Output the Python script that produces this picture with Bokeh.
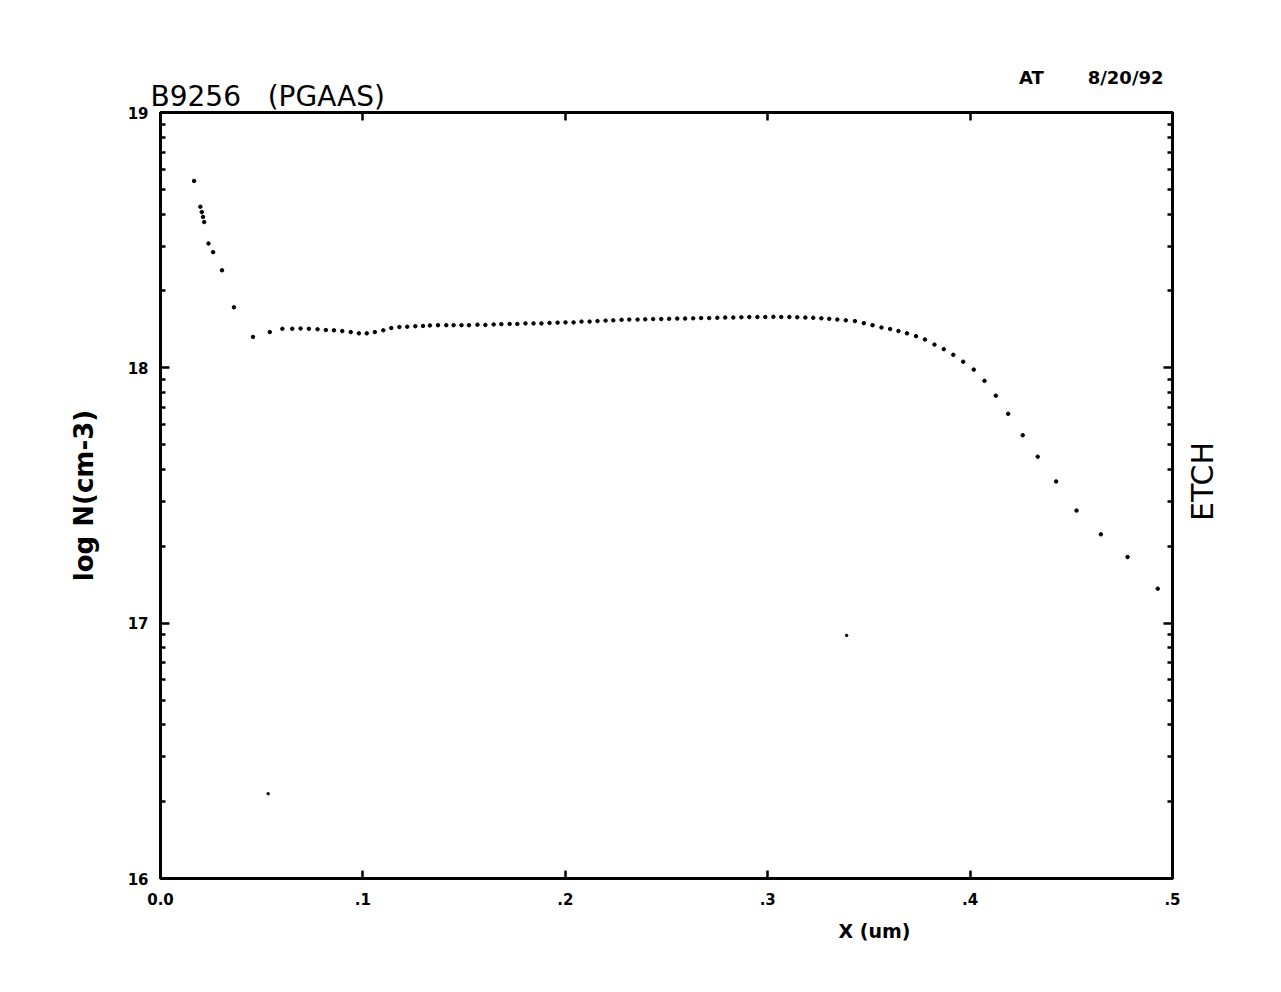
import math
from bokeh.plotting import figure
from bokeh.models import (FixedTicker, CustomJSTickFormatter, LinearAxis, Title, Range1d)
from bokeh.embed import file_html
from bokeh.resources import INLINE

# ---- data: depth X (um) and log N (cm-3) ----
x_um = [0.0166, 0.0197, 0.0204, 0.0210, 0.0216, 0.0237, 0.0260, 0.0304, 0.0363,
        0.0457, 0.0540, 0.0602, 0.0651, 0.0692, 0.0733, 0.0776, 0.0817, 0.0857,
        0.0898, 0.0940, 0.0980, 0.1019, 0.1059, 0.1101, 0.1140, 0.1180, 0.1219,
        0.1259, 0.1297, 0.1331, 0.1371, 0.1412, 0.1448, 0.1487, 0.1524, 0.1566,
        0.1605, 0.1646, 0.1684, 0.1725, 0.1763, 0.1803, 0.1843, 0.1882, 0.1922,
        0.1962, 0.2001, 0.2041, 0.2080, 0.2120, 0.2159, 0.2199, 0.2237, 0.2278,
        0.2316, 0.2357, 0.2395, 0.2434, 0.2474, 0.2513, 0.2553, 0.2592, 0.2632,
        0.2671, 0.2711, 0.2751, 0.2790, 0.2830, 0.2870, 0.2909, 0.2949, 0.2988,
        0.3028, 0.3067, 0.3107, 0.3146, 0.3186, 0.3225, 0.3265, 0.3304, 0.3344,
        0.3386, 0.3431, 0.3475, 0.3518, 0.3562, 0.3605, 0.3646, 0.3688, 0.3733,
        0.3777, 0.3824, 0.3870, 0.3917, 0.3966, 0.4018, 0.4071, 0.4127, 0.4188,
        0.4260, 0.4334, 0.4425, 0.4526, 0.4646, 0.4778, 0.4927]
log_n = [18.732, 18.631, 18.610, 18.591, 18.571, 18.487, 18.453, 18.382, 18.237,
         18.121, 18.140, 18.153, 18.153, 18.154, 18.153, 18.151, 18.148, 18.147,
         18.144, 18.140, 18.135, 18.135, 18.140, 18.147, 18.156, 18.160, 18.161,
         18.163, 18.164, 18.166, 18.167, 18.167, 18.167, 18.167, 18.167, 18.169,
         18.168, 18.170, 18.171, 18.172, 18.172, 18.174, 18.174, 18.174, 18.176,
         18.177, 18.178, 18.178, 18.181, 18.181, 18.183, 18.185, 18.186, 18.188,
         18.189, 18.189, 18.190, 18.191, 18.191, 18.192, 18.193, 18.193, 18.194,
         18.195, 18.195, 18.196, 18.197, 18.197, 18.198, 18.199, 18.199, 18.199,
         18.200, 18.199, 18.199, 18.198, 18.197, 18.196, 18.194, 18.192, 18.189,
         18.186, 18.183, 18.175, 18.167, 18.158, 18.152, 18.144, 18.135, 18.124,
         18.111, 18.091, 18.073, 18.051, 18.024, 17.993, 17.949, 17.891, 17.820,
         17.736, 17.652, 17.555, 17.441, 17.348, 17.259, 17.135]
stray_x = [0.0532, 0.3390]
stray_log = [16.332, 16.952]

x_ticks = [0.0, 0.1, 0.2, 0.3, 0.4, 0.5]
x_tick_labels = ["0.0", ".1", ".2", ".3", ".4", ".5"]
y_ticks = [16, 17, 18, 19]
y_tick_labels = ["16", "17", "18", "19"]
y_minor = [d + math.log10(k) for d in y_ticks[:-1] for k in range(2, 10)]

NB = "\u00a0"
title_text = "B9256" + NB * 3 + "(PGAAS)"
date_text = "AT" + NB * 7 + "8/20/92"
y_title = "log N(cm-3)"
x_title = "X (um)"
side_text = "ETCH"
side_text_at = [17.40]   # log N level where the side label starts

FONT = "DejaVu Sans"

p = figure(width=1281, height=992, x_range=Range1d(0, 0.5), y_range=Range1d(16, 19),
           output_backend="svg", toolbar_location=None,
           min_border_left=160, min_border_right=109,
           min_border_top=112, min_border_bottom=114,
           x_axis_location=None, y_axis_location=None)
p.background_fill_color = "white"
p.border_fill_color = "white"
p.outline_line_color = "black"
p.outline_line_width = 3
p.xgrid.visible = False
p.ygrid.visible = False

LOOKUP = """
let best = 0;
for (let i = 0; i < tv.length; i++) {
  if (Math.abs(tv[i] - tick) < Math.abs(tv[best] - tick)) best = i;
}
return lb[best];
"""
xfmt = CustomJSTickFormatter(args=dict(tv=x_ticks, lb=x_tick_labels), code=LOOKUP)
yfmt = CustomJSTickFormatter(args=dict(tv=y_ticks, lb=y_tick_labels), code=LOOKUP)


def blank():
    return CustomJSTickFormatter(code="return '';")


def style_axis(ax, major_in, minor_in):
    ax.axis_line_color = "black"
    ax.axis_line_width = 3
    ax.major_tick_in = major_in
    ax.major_tick_out = 0
    ax.minor_tick_in = minor_in
    ax.minor_tick_out = 0
    ax.major_tick_line_width = 2.5
    ax.minor_tick_line_width = 2.5
    ax.major_tick_line_color = "black"
    ax.minor_tick_line_color = "black"
    ax.major_label_text_font = FONT
    ax.major_label_text_font_style = "bold"
    ax.major_label_text_font_size = "15px"
    ax.major_label_text_color = "black"
    ax.axis_label_text_font = FONT
    ax.axis_label_text_color = "black"


xb = LinearAxis(ticker=FixedTicker(ticks=x_ticks, minor_ticks=[]), formatter=xfmt)
style_axis(xb, 8, 0)
xb.major_label_standoff = 14
p.add_layout(xb, "below")

xt = LinearAxis(ticker=FixedTicker(ticks=x_ticks, minor_ticks=[]), formatter=blank())
style_axis(xt, 8, 0)
xt.major_label_standoff = 0
p.add_layout(xt, "above")

yl = LinearAxis(ticker=FixedTicker(ticks=y_ticks, minor_ticks=y_minor), formatter=yfmt)
style_axis(yl, 9, 5)
yl.major_label_standoff = 12
yl.axis_label = y_title
yl.axis_label_text_font_size = "26px"
yl.axis_label_text_font_style = "bold"
yl.axis_label_standoff = 26
p.add_layout(yl, "left")

yr = LinearAxis(ticker=FixedTicker(ticks=y_ticks, minor_ticks=y_minor), formatter=blank())
style_axis(yr, 9, 5)
yr.major_label_standoff = 0
p.add_layout(yr, "right")

# side label "ETCH" (reads bottom to top), placed as a label on an outer right axis
ye = LinearAxis(ticker=FixedTicker(ticks=side_text_at, minor_ticks=[]),
                formatter=CustomJSTickFormatter(args=dict(t=side_text), code="return t;"))
ye.axis_line_alpha = 0
ye.major_tick_in = 0
ye.major_tick_out = 0
ye.minor_tick_in = 0
ye.minor_tick_out = 0
ye.major_label_orientation = math.pi / 2
ye.major_label_standoff = 30
ye.major_label_text_font = FONT
ye.major_label_text_font_size = "30px"
ye.major_label_text_font_style = "normal"
ye.major_label_text_color = "black"
p.add_layout(ye, "right")

p.scatter(x_um, log_n, size=3.5, color="black")
p.scatter(stray_x, stray_log, size=2.5, color="black")

# outermost header line: operator and date
p.title.text = date_text
p.title.align = "right"
p.title.offset = 9
try:
    p.title.standoff = -20
except Exception:
    p.title.standoff = 0
p.title.text_font = FONT
p.title.text_font_size = "18px"
p.title.text_font_style = "bold"
p.title.text_color = "black"

# sample title, just above the frame
p.add_layout(Title(text=title_text, align="left", offset=-10, standoff=0,
                   text_font=FONT, text_font_size="28px", text_font_style="normal",
                   text_color="black"), "above")

p.add_layout(Title(text=x_title, align="left", offset=678, standoff=20,
                   text_font=FONT, text_font_size="19px", text_font_style="bold",
                   text_color="black"), "below")

open("out.html", "w").write(file_html(p, INLINE))
